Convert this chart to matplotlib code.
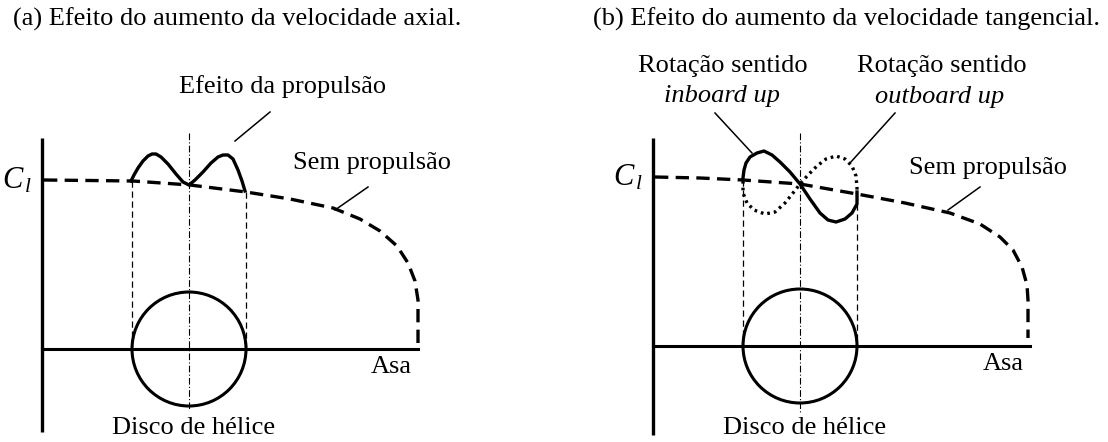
import numpy as np
import matplotlib.pyplot as plt
from matplotlib.patches import Circle

plt.rcParams['font.family'] = 'Liberation Serif'
plt.rcParams['mathtext.fontset'] = 'custom'
plt.rcParams['mathtext.it'] = 'Liberation Serif:italic'
plt.rcParams['mathtext.rm'] = 'Liberation Serif'

# coordinates are in figure pixels (y grows downward)

# panel (a): axial velocity
a_axis_x, a_axis_top, a_axis_bot = 42, 138, 432
a_wing_y, a_wing_end = 349, 418
a_cl_y = 180
a_disc = (189, 349, 57)
a_center_span = (133, 409)
a_no_prop_x = [44, 90, 133, 190, 246, 290, 333, 360, 380, 397, 408, 415, 418, 418, 418]
a_no_prop_y = [180, 180.5, 181, 185, 192, 199, 208, 219, 231, 246, 263, 281, 300, 320, 345]
a_prop_x = [131, 134, 138, 143, 148, 152, 156, 161, 168, 176, 183, 189, 195, 203, 211, 218, 223, 228, 233, 238, 242, 245]
a_prop_y = [181, 175, 168, 161, 156, 154, 154, 157, 164, 174, 182, 185, 180, 172, 163, 157, 155, 155, 159, 170, 181, 191]

# panel (b): tangential velocity
b_axis_x, b_axis_top, b_axis_bot = 653, 138, 435
b_wing_y, b_wing_end = 346, 1030
b_cl_y = 177
b_disc = (800, 346, 57)
b_center_span = (133, 413)
b_no_prop_x = [655, 700, 743, 800, 857, 905, 950, 980, 1000, 1013, 1022, 1027, 1028, 1028, 1028]
b_no_prop_y = [177, 178, 180, 184, 194, 203, 213, 224, 237, 250, 267, 285, 300, 320, 338]
b_inboard_x = [857, 857, 852, 845, 836, 828, 820, 810, 800, 790, 780, 772, 764, 757, 750, 746, 744, 743]
b_inboard_y = [192, 204, 213, 219, 222, 220, 213, 199, 184, 172, 162, 155, 151, 153, 157, 163, 170, 178]
b_outboard_x = [743, 743, 747, 754, 765, 775, 785, 793, 800, 808, 817, 826, 836, 845, 852, 856, 857, 857]
b_outboard_y = [181, 193, 203, 210, 214, 212, 203, 193, 184, 175, 166, 159, 156, 159, 166, 176, 188, 194]

fig = plt.figure(figsize=(11.08, 4.42), dpi=100)
ax = fig.add_axes([0, 0, 1, 1])
ax.set_xlim(0, 1108)
ax.set_ylim(442, 0)
ax.axis('off')

FS = 19
k = 'black'


def draw_frame(x0, top, bot, wing_y, wing_end, cl_y, disc, span, no_px, no_py):
    ax.plot([x0, x0], [top, bot], color=k, lw=2.4, solid_capstyle='butt')
    ax.plot([x0, wing_end], [wing_y, wing_y], color=k, lw=2.2)
    ax.plot(no_px, no_py, color=k, lw=2.4, linestyle=(0, (4, 2.2)))
    cx, cy, r = disc
    ax.add_patch(Circle((cx, cy), r, fill=False, ec=k, lw=2.2))
    for xv in (cx - r, cx + r):
        yv = np.interp(xv, no_px, no_py)
        ax.plot([xv, xv], [yv, wing_y], color=k, lw=0.9, linestyle=(0, (5, 3)))
    ax.plot([cx, cx], span, color=k, lw=0.8, linestyle=(0, (6, 2, 1, 2)))
    ax.text(x0 - 10, cl_y + 1, r'$C_{\,l}$', fontsize=FS + 3, ha='right', va='center')
    ax.text(wing_end - 6, wing_y + 18, 'Asa', fontsize=FS, ha='right', va='center')
    ax.text(cx + 5, 428, 'Disco de hélice', fontsize=FS, ha='center', va='center')


draw_frame(a_axis_x, a_axis_top, a_axis_bot, a_wing_y, a_wing_end, a_cl_y,
           a_disc, a_center_span, a_no_prop_x, a_no_prop_y)
draw_frame(b_axis_x, b_axis_top, b_axis_bot, b_wing_y, b_wing_end, b_cl_y,
           b_disc, b_center_span, b_no_prop_x, b_no_prop_y)

# (a) curve with propeller
ax.plot(a_prop_x, a_prop_y, color=k, lw=2.4, solid_joinstyle='round')
ax.plot([235, 270], [141, 112], color=k, lw=1.1)
ax.text(283, 87, 'Efeito da propulsão', fontsize=FS, ha='center', va='center')
ax.plot([335, 368], [210, 187], color=k, lw=1.1)
ax.text(372, 163, 'Sem propulsão', fontsize=FS, ha='center', va='center')
ax.text(13, 19, '(a) Efeito do aumento da velocidade axial.', fontsize=FS, ha='left', va='center')

# (b) both rotation directions
ax.plot(b_inboard_x, b_inboard_y, color=k, lw=2.4, solid_joinstyle='round')
ax.plot(b_outboard_x, b_outboard_y, color=k, lw=2.4, linestyle=(0, (0.8, 1.2)))
ax.plot([715, 752], [113, 153], color=k, lw=1.1)
ax.plot([895, 850], [113, 163], color=k, lw=1.1)
ax.text(723, 66, 'Rotação sentido', fontsize=FS, ha='center', va='center')
ax.text(722, 96, 'inboard up', fontsize=FS, ha='center', va='center', style='italic')
ax.text(942, 66, 'Rotação sentido', fontsize=FS, ha='center', va='center')
ax.text(940, 97, 'outboard up', fontsize=FS, ha='center', va='center', style='italic')
ax.plot([948, 980], [210, 187], color=k, lw=1.1)
ax.text(988, 168, 'Sem propulsão', fontsize=FS, ha='center', va='center')
ax.text(593, 19, '(b) Efeito do aumento da velocidade tangencial.', fontsize=FS, ha='left', va='center')

fig.savefig('out.png', dpi=100)
